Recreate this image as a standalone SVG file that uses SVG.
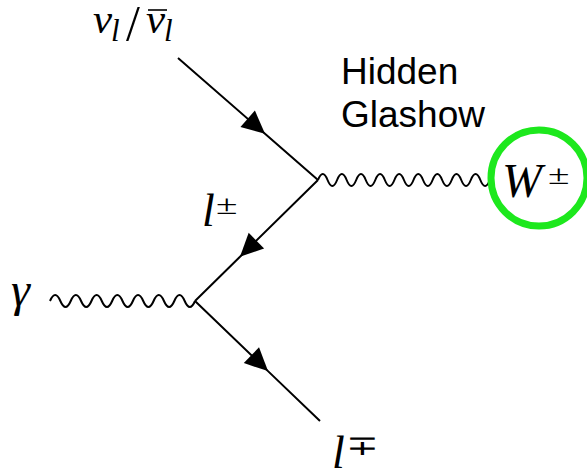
<svg xmlns="http://www.w3.org/2000/svg" width="587" height="470" viewBox="0 0 587 470">
<style>
.fermion{fill:none;stroke:#000;stroke-width:2;marker-mid:url(#arr)}
.photon{fill:none;stroke:#000;stroke-width:2;stroke-linejoin:round}
.math{font-family:"Liberation Serif","Times New Roman",serif;font-style:italic;fill:#000}
.up{font-family:"Liberation Serif","Times New Roman",serif;fill:#000}
.sans{font-family:"Liberation Sans",Arial,sans-serif;fill:#000}
</style>
<defs>
<marker id="arr" viewBox="-24 -12 25 24" refX="0" refY="0" markerWidth="25" markerHeight="24" markerUnits="userSpaceOnUse" orient="auto">
<path d="M0,0 L-23,-11 L-23,11 Z" fill="#000"/>
</marker>
</defs>
<g id="connectors">
<path class="fermion" d="M178,58 L265,133.8 L318,180"/>
<path class="fermion" d="M318,180 L240,256.7 L195,301"/>
<path class="fermion" d="M195,301 L268,371.1 L320,421"/>
<path class="photon" d="M318,180 c3.18,-8 6.37,-8 9.55,0 c3.18,8 6.37,8 9.55,0 c3.18,-8 6.37,-8 9.55,0 c3.18,8 6.37,8 9.55,0 c3.18,-8 6.37,-8 9.55,0 c3.18,8 6.37,8 9.55,0 c3.18,-8 6.37,-8 9.55,0 c3.18,8 6.37,8 9.55,0 c3.18,-8 6.37,-8 9.55,0 c3.18,8 6.37,8 9.55,0 c3.18,-8 6.37,-8 9.55,0 c3.18,8 6.37,8 9.55,0 c3.18,-8 6.37,-8 9.55,0 c3.18,8 6.37,8 9.55,0 c3.18,-8 6.37,-8 9.55,0 c3.18,8 6.37,8 9.55,0 c3.18,-8 6.37,-8 9.55,0 c3.18,8 6.37,8 9.55,0"/>
<path class="photon" d="M50,301 c3.45,-8 6.9,-8 10.36,0 c3.45,8 6.9,8 10.36,0 c3.45,-8 6.9,-8 10.36,0 c3.45,8 6.9,8 10.36,0 c3.45,-8 6.9,-8 10.36,0 c3.45,8 6.9,8 10.36,0 c3.45,-8 6.9,-8 10.36,0 c3.45,8 6.9,8 10.36,0 c3.45,-8 6.9,-8 10.36,0 c3.45,8 6.9,8 10.36,0 c3.45,-8 6.9,-8 10.36,0 c3.45,8 6.9,8 10.36,0 c3.45,-8 6.9,-8 10.36,0 c3.45,8 6.9,8 10.36,0"/>
</g>
<g id="neutrino-label">
<text class="math" x="93" y="33" font-size="43">ν</text>
<text class="math" x="111" y="41" font-size="31">l</text>
<text class="up" x="126" y="40" font-size="50">/</text>
<line x1="148" y1="10" x2="167" y2="10" stroke="#000" stroke-width="1.6"/>
<text class="math" x="146" y="33" font-size="43">ν</text>
<text class="math" x="164" y="41" font-size="31">l</text>
</g>
<g id="hidden-glashow-label">
<text class="sans" x="341" y="84" font-size="37">Hidden</text>
<text class="sans" x="341" y="127" font-size="37">Glashow</text>
</g>
<g id="w-boson">
<circle cx="539" cy="178" r="48" fill="none" stroke="#1de81d" stroke-width="7"/>
<text class="math" x="502" y="197" font-size="48">W</text>
<text class="up" font-size="28" transform="translate(548,184) scale(1.4,1)">±</text>
</g>
<g id="photon-label">
<text class="math" x="11" y="306" font-size="48">γ</text>
</g>
<g id="lepton-label">
<text class="math" x="202" y="226" font-size="46">l</text>
<text class="up" font-size="28" transform="translate(216,214) scale(1.4,1)">±</text>
</g>
<g id="antilepton-label">
<text class="math" x="332" y="468" font-size="46">l</text>
<text class="up" font-size="28" transform="translate(346,455) scale(1.4,1)">∓</text>
</g>
</svg>
